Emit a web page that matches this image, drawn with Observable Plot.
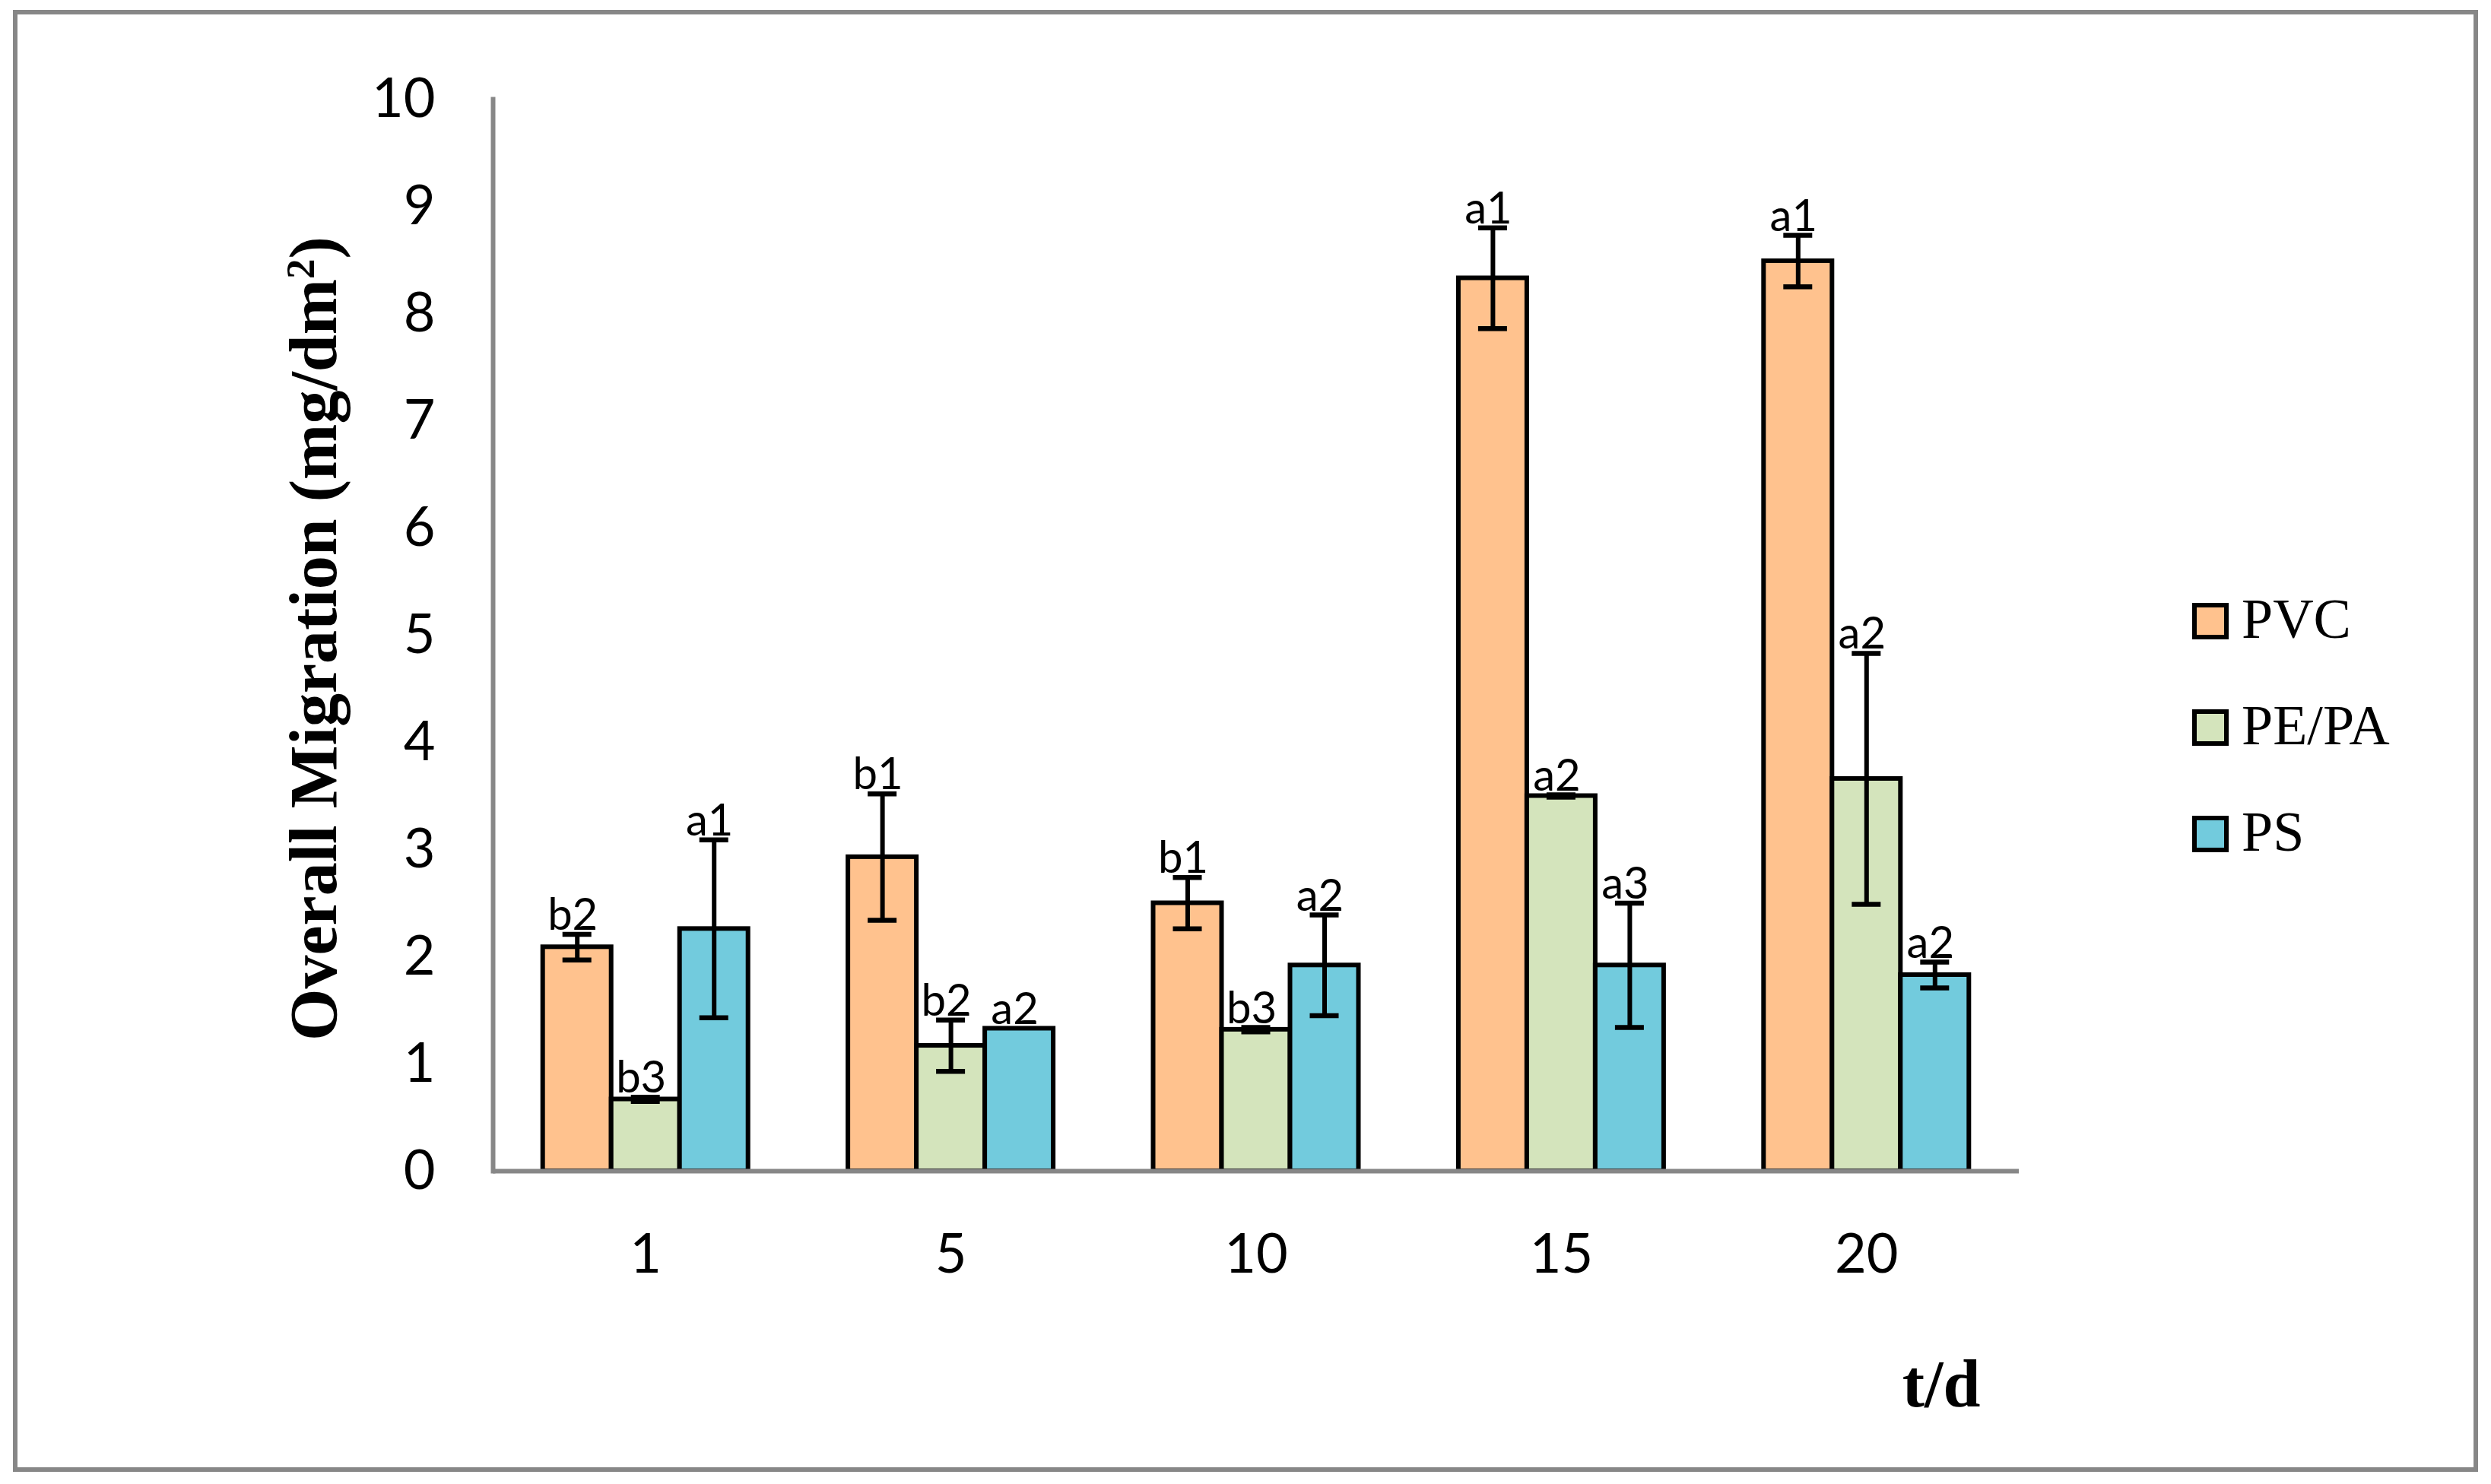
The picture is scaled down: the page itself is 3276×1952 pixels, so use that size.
<!DOCTYPE html>
<html>
<head>
<meta charset="utf-8">
<script src="https://cdn.jsdelivr.net/npm/d3@7"></script>
<script src="https://cdn.jsdelivr.net/npm/@observablehq/plot@0.6"></script>
<style>
  html, body { margin: 0; padding: 0; background: #fff; }
  #wrap { position: relative; width: 3276px; height: 1952px; overflow: hidden; background: #fff; }
  #wrap > svg { position: absolute; left: 0; top: 0; }
</style>
</head>
<body>
<div id="wrap"></div>
<script>
// ---- data ----
const days = ["1", "5", "10", "15", "20"];
const seriesNames = ["PVC", "PE/PA", "PS"];
const seriesColors = ["#FFC28E", "#D4E4BC", "#72CBDD"];
const yTicks = [0, 1, 2, 3, 4, 5, 6, 7, 8, 9, 10];

const pvcValues  = [2.09, 2.93, 2.50, 8.33, 8.49];
const pvcErrors  = [0.12, 0.59, 0.24, 0.47, 0.24];
const pvcLabels  = ["b2", "b1", "b1", "a1", "a1"];

const pepaValues = [0.67, 1.17, 1.32, 3.50, 3.66];
const pepaErrors = [0.02, 0.24, 0.02, 0.01, 1.17];
const pepaLabels = ["b3", "b2", "b3", "a2", "a2"];

const psValues   = [2.26, 1.33, 1.92, 1.92, 1.83];
const psErrors   = [0.83, 0.00, 0.47, 0.58, 0.12];
const psLabels   = ["a1", "a2", "a2", "a3", "a2"];

const seriesValues = [pvcValues, pepaValues, psValues];
const seriesErrors = [pvcErrors, pepaErrors, psErrors];
const seriesLabels = [pvcLabels, pepaLabels, psLabels];

const rows = [];
seriesNames.forEach((s, i) => {
  days.forEach((d, j) => {
    rows.push({day: d, series: s, value: seriesValues[i][j], err: seriesErrors[i][j], label: seriesLabels[i][j]});
  });
});

// ---- layout (styles) ----
const W = 3276, H = 1952;
const mL = 648, mR = 621, mT = 130, mB = 412;
const BW = (W - mL - mR) / days.length; // band width
const BAR = 90;   // bar width
const CAP = 38;   // error cap width
const AXIS = "#878787";

const marks = [];
seriesNames.forEach((s, i) => {
  const data = rows.filter(d => d.series === s);
  const off = (i - 1) * BAR;
  marks.push(Plot.barY(data, {
    x: "day", y: "value", fill: "series",
    stroke: "#000", strokeWidth: 6,
    insetLeft: BW / 2 + off - BAR / 2, insetRight: BW / 2 - off - BAR / 2
  }));
});
seriesNames.forEach((s, i) => {
  const data = rows.filter(d => d.series === s && d.err > 0);
  const off = (i - 1) * BAR;
  const capOpts = {stroke: "#000", strokeWidth: 6.5,
    insetLeft: BW / 2 + off - CAP / 2, insetRight: BW / 2 - off - CAP / 2};
  marks.push(Plot.ruleX(data, {x: "day", y1: d => d.value - d.err, y2: d => d.value + d.err, dx: off, stroke: "#000", strokeWidth: 6}));
  marks.push(Plot.tickY(data, {x: "day", y: d => d.value + d.err, ...capOpts}));
  marks.push(Plot.tickY(data, {x: "day", y: d => d.value - d.err, ...capOpts}));
});
seriesNames.forEach((s, i) => {
  const data = rows.filter(d => d.series === s);
  const off = (i - 1) * BAR;
  marks.push(Plot.text(data, {
    x: "day", y: d => d.value + d.err, text: "label",
    dx: off - 6, dy: -6, lineAnchor: "bottom",
    fontSize: 58, fontFamily: "Lato", fill: "#000"
  }));
});
marks.push(Plot.ruleY([0], {stroke: AXIS, strokeWidth: 6}));
marks.push(Plot.frame({anchor: "left", stroke: AXIS, strokeWidth: 6}));
marks.push(Plot.axisY({ticks: yTicks, tickSize: 0, tickPadding: 76, fontSize: 72, fontFamily: "Lato", label: null, tickFormat: d => String(d)}));
marks.push(Plot.axisX({tickSize: 0, tickPadding: 82, fontSize: 72, fontFamily: "Lato", label: null}));

const chart = Plot.plot({
  width: W, height: H,
  marginLeft: mL, marginRight: mR, marginTop: mT, marginBottom: mB,
  style: {background: "transparent", color: "#000", fontFamily: "Lato"},
  x: {domain: days, paddingInner: 0, paddingOuter: 0, round: false, axis: null},
  y: {domain: [0, 10], axis: null},
  color: {domain: seriesNames, range: seriesColors},
  marks
});

const wrap = document.getElementById("wrap");
wrap.appendChild(chart);

// ---- overlay: frame, titles, legend ----
const ov = d3.select(wrap).append("svg")
  .attr("width", W).attr("height", H)
  .style("pointer-events", "none");

ov.append("rect").attr("x", 20).attr("y", 16).attr("width", 3236).attr("height", 1917)
  .attr("fill", "none").attr("stroke", AXIS).attr("stroke-width", 6);

const yt = ov.append("text")
  .attr("transform", "translate(442,840) rotate(-90)")
  .attr("text-anchor", "middle")
  .attr("font-family", "'Liberation Serif', serif")
  .attr("font-weight", "bold").attr("font-size", 88).attr("fill", "#000");
yt.append("tspan").text("Overall Migration (mg/dm");
yt.append("tspan").attr("baseline-shift", "super").attr("font-size", 53).text("2");
yt.append("tspan").text(")");

ov.append("text").attr("x", 2553).attr("y", 1850).attr("text-anchor", "middle")
  .attr("font-family", "'Liberation Serif', serif")
  .attr("font-weight", "bold").attr("font-size", 88).attr("fill", "#000").text("t/d");

const legTops = [793, 933, 1073];
seriesNames.forEach((s, i) => {
  ov.append("rect").attr("x", 2886).attr("y", legTops[i] + 3).attr("width", 42).attr("height", 42)
    .attr("fill", seriesColors[i]).attr("stroke", "#000").attr("stroke-width", 6);
  ov.append("text").attr("x", 2948).attr("y", legTops[i] + 46)
    .attr("font-family", "'Liberation Serif', serif").attr("font-size", 74).attr("fill", "#000").text(s);
});
</script>
</body>
</html>
